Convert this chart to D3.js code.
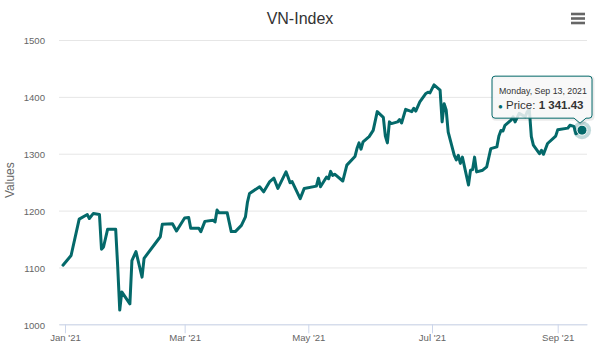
<!DOCTYPE html>
<html>
<head>
<meta charset="utf-8">
<script src="https://cdn.jsdelivr.net/npm/d3@7"></script>
<style>
  body { margin: 0; background: #fff; }
  svg { display: block; font-family: "Liberation Sans", Arial, sans-serif; }
</style>
</head>
<body>
<svg id="chart" width="600" height="350"></svg>
<script>
// VN-Index daily close, Dec 2020 – Sep 2021
const dates = [
  "2020-12-31","2021-01-04","2021-01-08","2021-01-12","2021-01-13","2021-01-15","2021-01-18",
  "2021-01-19","2021-01-20","2021-01-22","2021-01-26","2021-01-27","2021-01-28","2021-01-29",
  "2021-02-02","2021-02-03","2021-02-05","2021-02-08","2021-02-09","2021-02-17","2021-02-18",
  "2021-02-23","2021-02-25","2021-03-01","2021-03-03","2021-03-04","2021-03-08","2021-03-09",
  "2021-03-11","2021-03-15","2021-03-16","2021-03-17","2021-03-18","2021-03-22","2021-03-24",
  "2021-03-26","2021-03-29","2021-03-31","2021-04-01","2021-04-02","2021-04-07","2021-04-09",
  "2021-04-12","2021-04-14","2021-04-16","2021-04-20","2021-04-21","2021-04-22","2021-04-23",
  "2021-04-27","2021-04-29","2021-05-05","2021-05-06","2021-05-07","2021-05-10","2021-05-11",
  "2021-05-12","2021-05-13","2021-05-14","2021-05-18","2021-05-20","2021-05-24","2021-05-25",
  "2021-05-26","2021-05-27","2021-05-28","2021-05-31","2021-06-02","2021-06-04","2021-06-07",
  "2021-06-08","2021-06-09","2021-06-10","2021-06-11","2021-06-14","2021-06-15","2021-06-16",
  "2021-06-18","2021-06-21","2021-06-22","2021-06-23","2021-06-25","2021-06-28","2021-06-29",
  "2021-06-30","2021-07-02","2021-07-05","2021-07-06","2021-07-07","2021-07-08","2021-07-09",
  "2021-07-12","2021-07-13","2021-07-14","2021-07-15","2021-07-16","2021-07-19","2021-07-20",
  "2021-07-21","2021-07-22","2021-07-23","2021-07-26","2021-07-28","2021-07-30","2021-08-02",
  "2021-08-03","2021-08-04","2021-08-05","2021-08-06","2021-08-09","2021-08-10","2021-08-11",
  "2021-08-13","2021-08-16","2021-08-17","2021-08-18","2021-08-19","2021-08-20","2021-08-23",
  "2021-08-24","2021-08-25","2021-08-27","2021-08-31","2021-09-01","2021-09-06","2021-09-07",
  "2021-09-09","2021-09-10","2021-09-13"
];
const prices = [
  1104, 1121, 1185, 1193, 1186, 1195, 1193,
  1132, 1136, 1167, 1167, 1101, 1025, 1057,
  1036, 1112, 1128, 1083, 1116, 1154, 1176,
  1177, 1164, 1187, 1188, 1169, 1169, 1163,
  1181, 1183, 1180, 1201, 1196, 1196, 1163,
  1163, 1174, 1189, 1215, 1230, 1242, 1233,
  1251, 1257, 1239, 1268, 1259, 1249, 1251,
  1221, 1239, 1243, 1257, 1242, 1259, 1256,
  1269, 1262, 1264, 1252, 1280, 1295, 1309,
  1319, 1308, 1321, 1330, 1341, 1374, 1364,
  1331, 1319, 1356, 1353, 1356, 1360, 1354,
  1378, 1374, 1380, 1375, 1391, 1406, 1408,
  1407, 1421, 1412, 1356, 1388, 1377, 1338,
  1297, 1289, 1297, 1283, 1294, 1245, 1271,
  1272, 1294, 1268, 1271, 1277, 1309, 1312,
  1331, 1341, 1340, 1350, 1359, 1365, 1356,
  1371, 1365, 1374, 1378, 1330, 1315, 1300,
  1306, 1299, 1318, 1331, 1342, 1345, 1350,
  1348, 1335, 1341.43
];
const yTicks = [1000, 1100, 1200, 1300, 1400, 1500];
const xTickDates = ["2021-01-01", "2021-03-01", "2021-05-01", "2021-07-01", "2021-09-01"];
const xTickLabels = ["Jan '21", "Mar '21", "May '21", "Jul '21", "Sep '21"];
const chartTitle = "VN-Index";
const yAxisTitle = "Values";
const seriesName = "Price";

const lineColor = "#04696a";
const parse = d3.utcParse("%Y-%m-%d");
const data = dates.map((d, i) => ({ date: parse(d), value: prices[i] }));
const tickDates = xTickDates.map(parse);

const plot = { left: 59, right: 587, top: 40, bottom: 324.3 };

// time scale placed by its first and last labelled month, then widened to the plot edges
const x = d3.scaleUtc()
  .domain([tickDates[0], tickDates[tickDates.length - 1]])
  .range([65, 557.7]);
x.domain([x.invert(plot.left), x.invert(plot.right)]).range([plot.left, plot.right]);

const y = d3.scaleLinear()
  .domain([yTicks[0], yTicks[yTicks.length - 1]])
  .range([plot.bottom, plot.top]);

const svg = d3.select("#chart");
svg.append("rect").attr("width", 600).attr("height", 350).attr("fill", "#fff");

// title
svg.append("text")
  .attr("x", 300).attr("y", 24)
  .attr("text-anchor", "middle")
  .attr("font-size", 16)
  .attr("fill", "#333333")
  .text(chartTitle);

// export menu icon
const menu = svg.append("g").attr("stroke", "#666666").attr("stroke-width", 2.6);
[14, 18.5, 23].forEach(yy => {
  menu.append("line").attr("x1", 571).attr("x2", 585).attr("y1", yy).attr("y2", yy);
});

// y axis with grid lines
const yAxis = svg.append("g")
  .attr("transform", `translate(${plot.left},0)`)
  .call(d3.axisLeft(y).tickValues(yTicks).tickFormat(d3.format("d"))
    .tickSize(-(plot.right - plot.left)).tickPadding(14));
yAxis.select(".domain").remove();
yAxis.selectAll(".tick line").attr("stroke", "#e6e6e6");
yAxis.selectAll(".tick text")
  .attr("fill", "#666666").attr("font-size", 9.6).attr("dy", "0.4em")
  .attr("font-family", "'Liberation Sans', Arial, sans-serif");

svg.append("text")
  .attr("transform", `translate(14,${(plot.top + plot.bottom) / 2 - 2}) rotate(-90)`)
  .attr("text-anchor", "middle")
  .attr("font-size", 12)
  .attr("fill", "#666666")
  .text(yAxisTitle);

// x axis
const xAxis = svg.append("g")
  .attr("transform", `translate(0,${y(yTicks[0])})`)
  .call(d3.axisBottom(x).tickValues(tickDates)
    .tickFormat((d, i) => xTickLabels[i])
    .tickSize(9).tickSizeOuter(0).tickPadding(1));
xAxis.select(".domain").attr("stroke", "#ccd6eb");
xAxis.selectAll(".tick line").attr("stroke", "#ccd6eb");
xAxis.selectAll(".tick text")
  .attr("fill", "#666666").attr("font-size", 9.6)
  .attr("font-family", "'Liberation Sans', Arial, sans-serif");

// price line
const line = d3.line().x(d => x(d.date)).y(d => y(d.value));
svg.append("path")
  .datum(data)
  .attr("fill", "none")
  .attr("stroke", lineColor)
  .attr("stroke-width", 3)
  .attr("stroke-linejoin", "round")
  .attr("stroke-linecap", "round")
  .attr("d", line);

// hovered point: halo and marker
const last = data[data.length - 1];
const px = x(last.date), py = y(last.value);
svg.append("circle").attr("cx", px).attr("cy", py).attr("r", 9)
  .attr("fill", lineColor).attr("fill-opacity", 0.25);
svg.append("circle").attr("cx", px).attr("cy", py).attr("r", 5)
  .attr("fill", lineColor).attr("stroke", "#fff").attr("stroke-width", 1);

// tooltip callout
const fmtDate = d3.utcFormat("%A, %b %-d, %Y");
const fmtNum = d3.formatLocale({ decimal: ".", thousands: " ", grouping: [3], currency: ["", ""] }).format(",.2f");
const tw = 100, th = 42;
const bx = px + 10 - tw, by = py - 12 - th;
const ax = px - 2, ay = py - 7;
const r = 3;
const calloutPath = [
  `M${bx + r},${by}`,
  `H${bx + tw - r}`, `Q${bx + tw},${by} ${bx + tw},${by + r}`,
  `V${by + th - r}`, `Q${bx + tw},${by + th} ${bx + tw - r},${by + th}`,
  `H${ax + 6}`, `L${ax},${ay}`, `L${ax - 6},${by + th}`,
  `H${bx + r}`, `Q${bx},${by + th} ${bx},${by + th - r}`,
  `V${by + r}`, `Q${bx},${by} ${bx + r},${by}`, "Z"
].join(" ");
const tip = svg.append("g");
tip.append("path").attr("d", calloutPath)
  .attr("transform", "translate(1,1)")
  .attr("fill", "none").attr("stroke", "#000").attr("stroke-opacity", 0.08).attr("stroke-width", 3);
tip.append("path").attr("d", calloutPath)
  .attr("fill", "rgba(247,247,247,0.85)")
  .attr("stroke", lineColor).attr("stroke-width", 1);
tip.append("text")
  .attr("x", bx + 7).attr("y", by + 18)
  .attr("font-size", 8.8).attr("fill", "#333333")
  .text(fmtDate(last.date));
const row = tip.append("text")
  .attr("x", bx + 6).attr("y", by + 33)
  .attr("font-size", 11.5).attr("fill", "#333333");
row.append("tspan").attr("fill", lineColor).attr("font-size", 8).text("\u25CF");
row.append("tspan").text(` ${seriesName}: `);
row.append("tspan").attr("font-weight", "bold").text(fmtNum(last.value));
</script>
</body>
</html>
